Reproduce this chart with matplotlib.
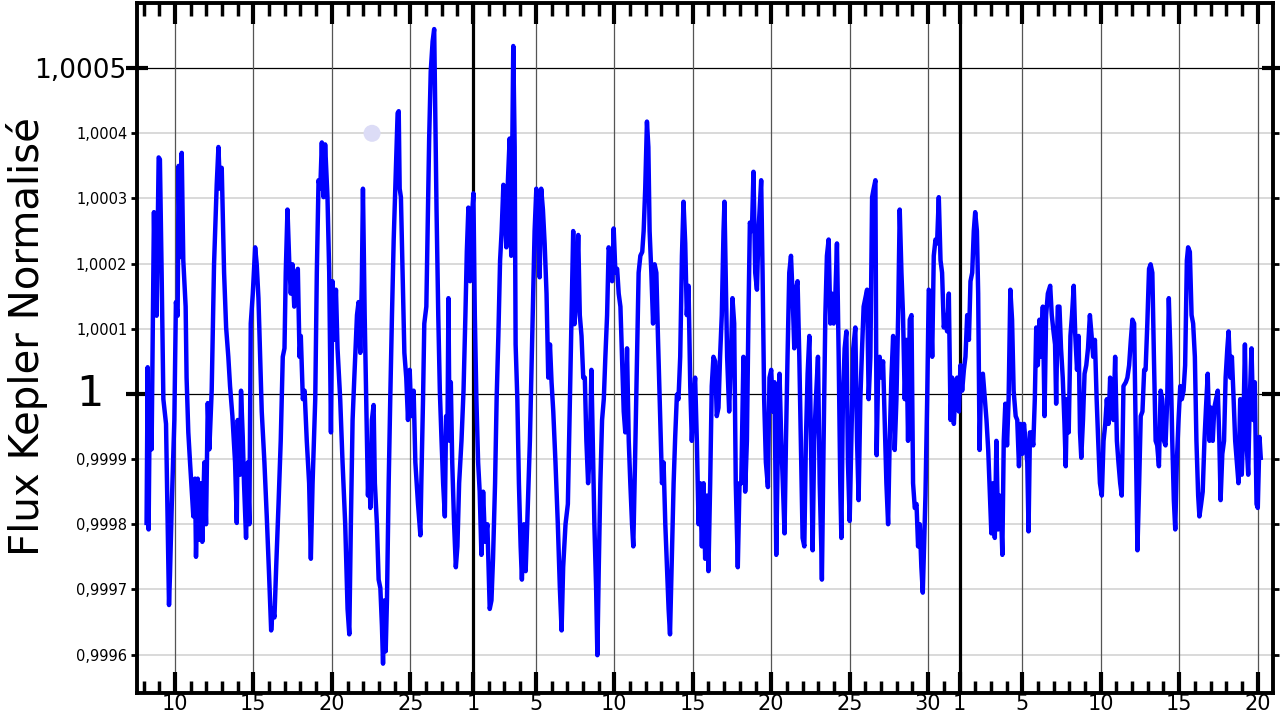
import numpy as np
import matplotlib
matplotlib.use("Agg")
import matplotlib.pyplot as plt
import matplotlib.transforms as mtransforms

# ---- Data: time in days counted from 1 Feb (Feb d -> d, Mar d -> 28+d, Apr d -> 59+d),
# ---- flux deviation in units of 1e-4 (flux = 1 + dev*1e-4)
feb = [(8.19,-1.98),(8.26,0.41),(8.32,-2.08),(8.40,0.05),(8.51,-0.85),(8.66,2.79),(8.72,1.86),(8.83,1.2),
       (8.96,3.63),(9.04,3.6),(9.15,1.86),(9.26,-0.08),(9.43,-0.46),(9.62,-3.24),(9.68,-2.79),(9.79,-1.75),
       (9.96,-0.4),(10.06,1.41),(10.17,1.2),(10.23,3.5),(10.32,2.1),(10.43,3.7),(10.53,2.05),(10.68,1.34),
       (10.74,0.25),(10.85,-0.59),(10.96,-1.05),(11.17,-1.88),(11.28,-1.3),(11.34,-2.5),(11.45,-1.3),
       (11.53,-2.24),(11.64,-1.37),(11.74,-2.27),(11.87,-1.05),(11.98,-2.0),(12.09,-0.14),(12.19,-0.85),
       (12.34,0.05),(12.49,1.99),(12.66,3.21),(12.77,3.79),(12.87,3.15),(12.98,3.47),(13.13,1.86),
       (13.26,1.02),(13.40,0.57),(13.51,0.12),(13.66,-0.34),(13.83,-1.05),(13.94,-1.98),(14.00,-0.4),
       (14.15,-1.24),(14.21,0.05),(14.32,-0.66),(14.40,-1.37),(14.53,-2.21),(14.64,-1.05),(14.74,-2.0),
       (14.83,1.08),(14.96,1.54),(15.11,2.25),(15.21,1.99),(15.32,1.47),(15.43,0.57),(15.53,-0.27),
       (15.70,-1.05),(15.85,-1.88),(16.00,-2.79),(16.13,-3.63),(16.23,-3.3),(16.34,-3.43),(16.45,-2.66),
       (16.60,-1.69),(16.74,-0.72),(16.87,0.57),(16.98,0.7),(17.06,1.86),(17.17,2.83),(17.28,2.05),
       (17.38,1.54),(17.49,1.99),(17.60,1.34),(17.72,1.73),(17.83,1.92),(17.94,0.57),(18.02,0.89),
       (18.15,-0.08),(18.26,0.05),(18.40,-0.72),(18.55,-1.37),(18.66,-2.53),(18.77,-1.37),(18.94,-0.08),
       (19.04,1.86),(19.15,3.28),(19.26,3.15),(19.36,3.86),(19.47,3.02),(19.57,3.83),(19.72,3.02),
       (19.83,1.86),(19.94,-0.59),(20.04,1.73),(20.15,0.83),(20.26,1.6),(20.36,0.7),(20.53,-0.08),
       (20.68,-1.05),(20.85,-2.0),(21.00,-3.3),(21.11,-3.69),(21.21,-2.0),(21.32,-0.4),(21.43,0.25),
       (21.60,1.21),(21.70,1.41),(21.81,0.63),(21.91,1.73),(21.98,3.15),(22.09,1.21),(22.19,-0.08),
       (22.30,-1.56),(22.38,-0.98),(22.45,-1.75),(22.55,-0.4),(22.66,-0.17),(22.74,-1.37),(22.87,-2.0),
       (22.98,-2.85),(23.09,-2.98),(23.19,-3.56),(23.26,-4.14),(23.34,-3.17),(23.43,-3.95),(23.51,-3.17),
       (23.62,-1.37),(23.72,-0.08),(23.83,1.21),(23.94,2.37),(24.04,3.15),(24.11,3.66),(24.19,4.31),
       (24.26,4.34),(24.32,3.15),(24.40,3.02),(24.51,1.86),(24.62,0.63),(24.74,0.25),(24.85,-0.4),
       (24.96,0.37),(25.06,-0.34),(25.21,0.05),(25.32,-1.05),(25.49,-1.69),(25.64,-2.17),(25.70,-1.37),
       (25.81,-0.08),(25.89,1.08),(26.02,1.34),(26.10,2.5),(26.20,3.92),(26.30,4.95),(26.42,5.41),
       (26.52,5.6),(26.58,4.44),(26.67,2.83),(26.78,1.21),(26.88,0.05),(26.99,-0.72),(27.09,-1.37),
       (27.20,-1.88),(27.28,-0.34),(27.37,-0.46),(27.43,1.47),(27.50,-0.72),(27.58,0.18),(27.67,-1.05),
       (27.79,-2.0),(27.90,-2.66),(28.00,-2.34),(28.11,-1.37),(28.26,-0.72),(28.39,0.05),(28.51,1.21),
       (28.60,2.18),(28.70,2.86),(28.81,1.73),(28.92,2.7)]

mar = [(29.02,3.08),(29.11,1.21),(29.21,-0.08),(29.32,-1.05),(29.42,-1.5),(29.53,-2.47),(29.64,-1.5),
       (29.76,-2.27),(29.91,-2.0),(30.06,-3.3),(30.17,-3.17),(30.27,-2.53),(30.40,-1.37),(30.50,-0.08),
       (30.61,0.89),(30.72,2.05),(30.82,2.5),(30.93,3.21),(31.03,2.83),(31.12,2.25),(31.22,3.28),
       (31.33,3.92),(31.43,2.12),(31.50,3.79),(31.56,5.34),(31.65,3.79),(31.71,0.76),(31.82,-0.08),
       (31.92,-1.37),(32.03,-2.34),(32.11,-2.85),(32.24,-2.0),(32.35,-2.72),(32.45,-2.0),(32.62,-0.72),
       (32.77,0.89),(32.92,2.5),(33.03,3.15),(33.13,2.83),(33.24,1.79),(33.34,3.15),(33.45,2.83),
       (33.56,2.31),(33.68,1.54),(33.79,0.25),(33.90,0.76),(34.00,0.18),(34.11,-0.27),(34.25,-1.05),
       (34.40,-2.0),(34.53,-2.98),(34.64,-3.63),(34.74,-2.66),(34.89,-2.0),(35.04,-1.69),(35.17,-0.08),
       (35.27,1.21),(35.38,2.5),(35.46,1.07),(35.59,1.54),(35.70,2.44),(35.80,1.21),(35.91,0.89),
       (36.02,0.25),(36.12,0.25),(36.22,-0.72),(36.33,-1.37),(36.44,-0.86),(36.54,0.37),(36.63,-0.72),
       (36.73,-2.0),(36.84,-2.98),(36.92,-4.01),(37.01,-2.66),(37.11,-1.37),(37.22,-0.4),(37.33,-0.08),
       (37.43,0.57),(37.54,1.21),(37.64,2.25),(37.75,2.12),(37.86,1.73),(37.96,2.54),(38.07,1.86),
       (38.18,1.92),(38.28,1.54),(38.39,1.34),(38.49,0.57),(38.60,-0.27),(38.70,-0.59),(38.81,0.7),
       (38.92,-0.72),(39.02,-1.37),(39.13,-2.0),(39.21,-2.34),(39.32,-1.05),(39.45,0.57),(39.55,1.86),
       (39.66,2.12),(39.78,2.18),(39.87,2.5),(39.97,3.15),(40.08,4.18),(40.17,3.79),(40.25,2.5),
       (40.36,1.86),(40.47,1.08),(40.57,1.99),(40.68,1.86),(40.78,0.89),(40.93,-0.4),(41.04,-1.37),
       (41.14,-1.05),(41.25,-2.0),(41.36,-2.66),(41.46,-3.3),(41.55,-3.69),(41.65,-2.66),(41.78,-1.37),
       (41.88,-0.66),(41.99,-0.01),(42.09,-0.08),(42.20,0.57),(42.31,2.12),(42.41,2.95),(42.52,2.31),
       (42.62,1.21),(42.73,1.66),(42.84,0.12),(42.94,-0.72),(43.05,-0.08),(43.15,0.25),(43.26,-0.72),
       (43.37,-2.0),(43.47,-1.37),(43.58,-2.34),(43.69,-1.37),(43.79,-2.53),(43.90,-1.56),(44.00,-2.72),
       (44.11,-1.37),(44.21,0.12),(44.32,0.57),(44.43,0.5),(44.53,-0.34),(44.64,-0.21),(44.74,0.57),
       (44.85,1.21),(44.96,2.5),(45.02,2.95),(45.11,1.73),(45.19,0.57),(45.32,-0.27),(45.43,0.57),
       (45.53,1.47),(45.64,1.08),(45.74,-1.37),(45.87,-2.66),(45.98,-1.37),(46.09,-1.37),(46.23,0.57),
       (46.34,-1.5),(46.45,-0.72),(46.55,1.21),(46.64,2.63),(46.77,2.5),(46.87,3.41),(46.98,1.86),
       (47.09,1.6),(47.19,2.5),(47.36,3.28),(47.45,1.86),(47.55,-0.08),(47.66,-1.05),(47.79,-1.43),
       (47.89,0.25),(48.00,0.37),(48.11,-0.27),(48.21,0.18),(48.32,-2.47),(48.43,-0.72),(48.53,0.31),
       (48.64,-0.72),(48.74,-1.37),(48.85,-2.14),(48.94,-0.72),(49.04,0.57),(49.15,1.86),(49.26,2.12),
       (49.36,1.54),(49.47,0.7),(49.57,1.6),(49.68,1.73),(49.79,0.57),(49.89,-0.72),(50.00,-2.21),
       (50.11,-2.34),(50.21,-0.72),(50.32,0.31),(50.43,0.89),(50.53,-0.72),(50.64,-2.4),(50.74,-0.72),
       (50.85,-0.08),(50.98,0.57),(51.09,-1.37),(51.19,-2.34),(51.23,-2.85),(51.34,-0.72),(51.45,1.21),
       (51.55,2.12),(51.66,2.37),(51.77,1.08),(51.87,1.54),(51.98,1.08),(52.09,1.54),(52.19,2.31),
       (52.30,0.57),(52.40,-1.37),(52.47,-2.21),(52.57,-0.08),(52.68,0.7),(52.79,0.96),(52.89,-1.05),
       (53.00,-1.95),(53.11,-0.72),(53.23,0.7),(53.36,1.02),(53.47,-0.72),(53.57,-1.63),(53.68,-0.08),
       (53.79,0.7),(53.89,1.34),(54.00,1.47),(54.11,1.6),(54.21,-0.08),(54.32,0.57),(54.43,3.02),
       (54.53,3.15),(54.64,3.28),(54.72,-0.94),(54.81,0.25),(54.91,0.57),(55.02,0.25),(55.13,0.5),
       (55.23,-0.4),(55.34,-1.37),(55.45,-2.0),(55.55,-0.72),(55.66,0.25),(55.77,0.89),(55.87,-0.86),
       (55.98,-0.08),(56.09,1.21),(56.19,2.83),(56.30,1.86),(56.40,1.21),(56.51,-0.08),(56.62,0.83),
       (56.72,-0.72),(56.83,1.14),(56.94,1.21),(57.04,-1.37),(57.15,-1.75),(57.26,-1.69),(57.36,-2.34),
       (57.47,-2.0),(57.57,-2.66),(57.66,-3.05),(57.74,-2.34),(57.83,-1.56),(57.94,-0.08),(58.04,1.6),
       (58.15,1.54),(58.26,0.57),(58.36,2.12),(58.47,2.37),(58.57,2.31),(58.68,3.02),(58.79,2.05),
       (58.89,1.86),(59.00,1.02),(59.11,1.21),(59.21,0.96),(59.32,1.54),(59.43,-0.4),(59.53,0.25),
       (59.64,-0.46),(59.74,0.05),(59.85,0.25),(59.96,-0.27)]

apr = [(60.06,0.44),(60.17,0.05),(60.28,0.37),(60.38,0.57),(60.49,1.21),(60.60,0.83),(60.70,1.73),
       (60.81,1.86),(60.91,2.5),(61.00,2.79),(61.11,2.5),(61.19,1.54),(61.28,-0.86),(61.38,0.25),
       (61.49,0.31),(61.62,-0.08),(61.72,-0.4),(61.83,-0.86),(62.03,-2.14),(62.14,-1.37),(62.25,-2.21),
       (62.35,-0.72),(62.46,-2.08),(62.56,-1.56),(62.67,-2.0),(62.73,-2.47),(62.82,-0.72),(62.92,-0.15),
       (63.03,-0.79),(63.13,-0.08),(63.24,1.6),(63.35,1.14),(63.45,0.05),(63.58,-0.34),(63.68,-0.4),
       (63.79,-1.11),(63.89,-0.46),(64.00,-0.92),(64.11,-0.46),(64.21,-0.72),(64.32,-1.05),(64.40,-2.11),
       (64.49,-0.59),(64.59,-0.59),(64.70,-0.79),(64.80,-0.08),(64.89,1.02),(64.99,0.44),(65.10,1.14),
       (65.20,0.57),(65.31,1.34),(65.42,-0.34),(65.52,1.21),(65.63,1.54),(65.78,1.66),(65.88,1.21),
       (65.99,0.96),(66.09,0.76),(66.16,-0.15),(66.26,1.34),(66.37,1.34),(66.47,0.7),(66.58,0.25),
       (66.69,-0.46),(66.77,-1.11),(66.85,-0.08),(66.96,-0.59),(67.07,0.89),(67.17,1.21),(67.28,1.66),
       (67.38,0.89),(67.49,0.37),(67.59,0.89),(67.68,-0.59),(67.76,-0.98),(67.87,-0.4),(67.97,0.31),
       (68.08,0.44),(68.19,0.7),(68.31,1.21),(68.42,0.89),(68.52,0.57),(68.63,0.83),(68.74,-0.08),
       (68.84,-0.72),(68.95,-1.37),(69.07,-1.56),(69.18,-0.72),(69.29,-0.46),(69.39,-0.08),(69.50,-0.46),
       (69.60,0.25),(69.71,-0.34),(69.81,-0.4),(69.92,0.57),(70.03,-0.72),(70.13,-1.05),(70.24,-1.37),
       (70.34,-1.56),(70.45,0.12),(70.60,0.18),(70.70,0.25),(70.81,0.44),(70.92,0.83),(71.02,1.14),
       (71.13,1.08),(71.24,-0.72),(71.34,-2.4),(71.45,-1.37),(71.55,-0.34),(71.66,-0.27),(71.77,0.37),
       (71.86,0.37),(71.97,1.08),(72.08,1.92),(72.18,1.99),(72.29,1.86),(72.39,0.57),(72.50,-0.72),
       (72.60,-0.79),(72.71,-1.11),(72.82,0.05),(72.92,-0.08),(73.03,-0.72),(73.13,-0.79),(73.24,-0.08),
       (73.34,1.47),(73.45,0.57),(73.56,-0.72),(73.66,-1.63),(73.75,-2.08),(73.85,-1.05),(73.96,-0.4),
       (74.07,0.12),(74.17,-0.08),(74.28,0.05),(74.38,0.44),(74.49,2.05),(74.57,2.25),(74.68,2.18),
       (74.79,1.21),(74.89,1.08),(75.00,0.57),(75.10,-0.72),(75.21,-1.56),(75.29,-1.88),(75.40,-1.69),
       (75.50,-1.5),(75.61,-0.72),(75.71,-0.21),(75.82,0.31),(75.93,-0.72),(76.03,-0.21),(76.14,-0.72),
       (76.24,-0.21),(76.35,-0.08),(76.46,0.05),(76.56,-0.72),(76.64,-1.63),(76.75,-0.92),(76.86,-0.72),
       (76.96,0.25),(77.07,0.7),(77.15,0.96),(77.26,0.25),(77.36,0.57),(77.47,-0.08),(77.57,-0.72),
       (77.68,-1.05),(77.78,-1.37),(77.89,-0.08),(77.99,-1.24),(78.10,-0.4),(78.19,0.76),(78.29,-0.72),
       (78.40,-1.24),(78.50,-0.08),(78.61,0.7),(78.72,-0.4),(78.82,0.18),(78.93,-1.69),(79.01,-1.75),
       (79.12,-0.66),(79.20,-0.98)]

# tick positions (days from 1 Feb) and their labels
xtick_days = [10, 15, 20, 25, 29, 33, 38, 43, 48, 53, 58, 60, 64, 69, 74, 79]
xtick_labels = ["10", "15", "20", "25", "1", "5", "10", "15", "20", "25", "30", "1", "5", "10", "15", "20"]
month_starts = [29, 60]
ymajor = [1.0, 1.0005]
ymajor_labels = ["1", "1,0005"]
yminor = [0.9996, 0.9997, 0.9998, 0.9999, 1.0001, 1.0002, 1.0003, 1.0004]
yminor_labels = ["0,9996", "0,9997", "0,9998", "0,9999", "1,0001", "1,0002", "1,0003", "1,0004"]
highlight = (22.56, 1.0004)

# ---- Figure
fig = plt.figure(figsize=(12.8, 7.2), dpi=100)
ax = fig.add_axes([137/1280, 1 - 693/720, (1273 - 137)/1280, (693 - 3)/720])

for y in yminor:
    ax.axhline(y, color="#cfcfcf", lw=1.1, zorder=1)
for y in ymajor:
    ax.axhline(y, color="black", lw=0.9, zorder=1)
for x in xtick_days:
    if x not in month_starts:
        ax.axvline(x, color="#555555", lw=0.9, zorder=1)
for x in month_starts:
    ax.axvline(x, color="black", lw=2.3, zorder=1.5)

data = np.array(feb + mar + apr)
t = data[:, 0]
flux = 1 + data[:, 1] * 1e-4
ax.plot(t, flux, color="#0000ff", lw=3.2, solid_joinstyle="round", zorder=3)

ax.scatter([highlight[0]], [highlight[1]], s=150, color="#dcdcf6", edgecolors="none", zorder=2)

ax.set_xlim(7.58, 79.98)
ax.set_ylim(0.999541, 1.0006)

ax.set_xticks(xtick_days, xtick_labels)
ax.set_xticks(np.arange(8, 80), minor=True)
ax.tick_params(axis="x", which="major", direction="in", length=15, width=3,
               top=True, bottom=True, labelsize=15, pad=1, color="black")
ax.tick_params(axis="x", which="minor", direction="in", length=9, width=2.5,
               top=True, bottom=True)

# "1" label is drawn separately (larger and set further from the axis)
ax.set_yticks(ymajor, ["", ymajor_labels[1]])
ax.set_yticks(yminor, yminor_labels, minor=True)
ax.tick_params(axis="y", which="major", direction="inout", length=16, width=3,
               left=True, right=True, pad=0, labelsize=19)
ax.tick_params(axis="y", which="minor", direction="out", length=4, width=2,
               left=True, right=True, labelsize=10.5, pad=3)
trans = mtransforms.blended_transform_factory(ax.transAxes, ax.transData)
ax.text((90 - 137)/1136, ymajor[0], ymajor_labels[0], transform=trans,
        ha="center", va="center", fontsize=31)

for sp in ax.spines.values():
    sp.set_linewidth(2.8)
    sp.set_zorder(5)

fig.text(27/1280, 1 - 337/720, "Flux Kepler Normalisé", rotation=90,
         ha="center", va="center", fontsize=29)

fig.savefig("out.png", dpi=100)
